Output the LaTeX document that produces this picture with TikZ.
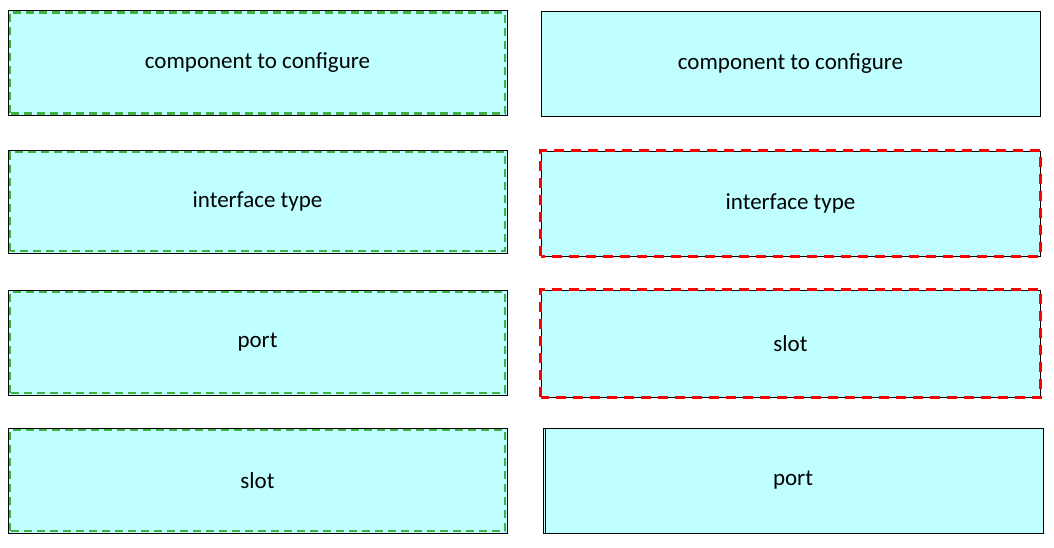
\documentclass[tikz,border=0pt]{standalone}
\usepackage{fontspec}
\setmainfont{Carlito}
\usetikzlibrary{positioning}

\definecolor{boxfill}{RGB}{192,255,255}
\definecolor{markgreen}{RGB}{64,176,64}

\tikzset{
  item/.style={draw=black, line width=0.9pt, fill=boxfill, minimum width=499pt, minimum height=105pt,
    inner sep=0pt, font=\fontsize{23}{27}\selectfont},
  greendash/.style={draw=markgreen, line width=2.2pt, dash pattern=on 8pt off 5pt},
  reddash/.style={draw=red, line width=2.5pt, dash pattern=on 10pt off 7pt}
}

\begin{document}
\begin{tikzpicture}[x=1pt, y=-1pt]

		\useasboundingbox (0,0) rectangle (1054,548);

		% Left column
		\node[item] (lcomp) at (257.5,63) {component to configure};
		\node[item, minimum height=103pt] (ltype) at (257.5,201.5) {interface type};
		\node[item] (lport) at (257.5,342.5) {port};
		\node[item] (lslot) at (257.5,480.5) {slot};

		% Right column
		\node[item] (rcomp) at (790.5,64) {component to configure};
		\node[item] (rtype) at (790.5,203.5) {interface type};
		\node[item, minimum height=107pt] (rslot) at (790.5,343.5) {slot};
		\node[item, minimum width=500pt] (rport) at (793,480.5) {port};

		% Dashed marks
		\foreach \n in {lcomp, ltype, lport, lslot}
			\draw[greendash] ([shift={(2.5pt,2.5pt)}]\n.south west) rectangle ([shift={(-2.5pt,-2.5pt)}]\n.north east);
		\foreach \n in {rtype, rslot}
			\draw[reddash] (\n.south west) rectangle (\n.north east);
		\draw[line width=0.9pt] ([xshift=3pt]rport.north west) -- ([xshift=3pt]rport.south west);
	\end{tikzpicture}
\end{document}
